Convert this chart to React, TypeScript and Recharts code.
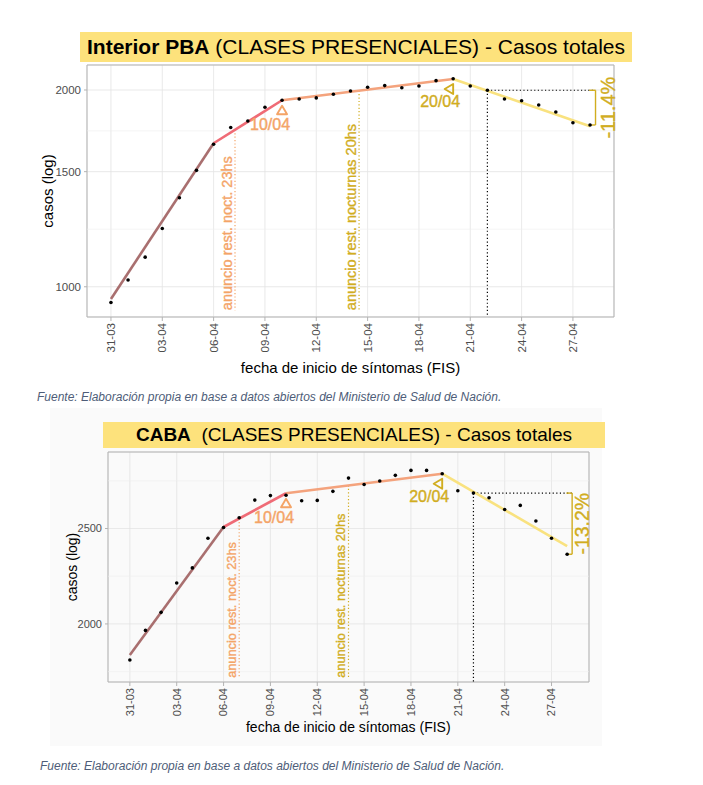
import {
  CartesianGrid,
  ComposedChart,
  Line,
  ReferenceArea,
  ReferenceDot,
  ReferenceLine,
  Scatter,
  XAxis,
  YAxis,
} from 'recharts'

// dias desde 31-03 (indice 0) hasta 28-04 (indice 28)
const dias = [
  '31-03', '01-04', '02-04', '03-04', '04-04', '05-04', '06-04', '07-04',
  '08-04', '09-04', '10-04', '11-04', '12-04', '13-04', '14-04', '15-04',
  '16-04', '17-04', '18-04', '19-04', '20-04', '21-04', '22-04', '23-04',
  '24-04', '25-04', '26-04', '27-04', '28-04',
]
const diasTicks = [0, 3, 6, 9, 12, 15, 18, 21, 24, 27]

const casosPBA = [
  946, 1024, 1110, 1228, 1368, 1507, 1652, 1752, 1793, 1882, 1929, 1938, 1945,
  1970, 1993, 2019, 2031, 2016, 2028, 2067, 2081, 2028, 1998, 1938, 1926, 1897,
  1851, 1782, 1768,
]
const casosCABA = [
  1838, 1970, 2055, 2201, 2280, 2444, 2506, 2564, 2672, 2700, 2702, 2668, 2670,
  2727, 2813, 2771, 2794, 2831, 2864, 2864, 2842, 2731, 2716, 2687, 2614, 2639,
  2544, 2444, 2354,
]

// regresion segmentada: dias de quiebre y valor ajustado en cada uno
const quiebres = [0, 6, 10, 20, 28]
const tramoPBA = [958, 1658, 1929, 2079, 1760]
const tramoCABA = [1860, 2509, 2715, 2842, 2399]
const coloresTramo = ['#a96f6f', '#ef6b76', '#f4a37d', '#f9e27f']

const ticksPBA = [1000, 1500, 2000]
const minorPBA = [1224.7, 1732.1]
const ticksCABA = [2000, 2500]
const minorCABA = [1788.9, 2236.1, 2795.1]

const naranja = '#f4a467'
const dorado = '#d1ad1f'
const diaRef = 22
const diaFin = 28
const xDominio: [number, number] = [-1.4, 29.4]
const xBracket = 28.32
const xBracketTick = 27.95

type Anuncio = { dia: number; texto: string; color: string }

function tramoEn(tramo: number[], dia: number) {
  for (let i = 0; i < quiebres.length - 1; i++) {
    if (dia <= quiebres[i + 1]) {
      const t = (dia - quiebres[i]) / (quiebres[i + 1] - quiebres[i])
      return tramo[i] * Math.pow(tramo[i + 1] / tramo[i], t)
    }
  }
  return tramo[tramo.length - 1]
}

function TickFecha(props: any) {
  const { x, y, payload, fontSize } = props
  return (
    <text
      x={x}
      y={y}
      transform={`rotate(-90 ${x} ${y})`}
      textAnchor='end'
      dy='0.35em'
      fontSize={fontSize}
      fill='#4d4d4d'
    >
      {dias[payload.value]}
    </text>
  )
}

function Punto(props: any) {
  return <circle cx={props.cx} cy={props.cy} r={1.8} fill='#000' />
}

function TextoVertical(props: any) {
  const { cx, cy, texto, color, dx, fontSize, anchor } = props
  const x = cx + dx
  return (
    <text
      x={x}
      y={cy}
      transform={`rotate(-90 ${x} ${cy})`}
      textAnchor={anchor}
      dominantBaseline='central'
      fontSize={fontSize}
      fill={color}
      stroke={color}
      strokeWidth={0.35}
    >
      {texto}
    </text>
  )
}

function Quiebre(props: any) {
  const { cx, cy, texto, color, rot, tri, txt, fontSize } = props
  const tx = cx + tri[0]
  const ty = cy + tri[1]
  return (
    <g>
      <path
        d={`M ${tx} ${ty - 4.5} L ${tx + 5} ${ty + 4} L ${tx - 5} ${ty + 4} Z`}
        transform={`rotate(${rot} ${tx} ${ty})`}
        fill='none'
        stroke={color}
        strokeWidth={1.9}
        strokeLinejoin='round'
      />
      <text
        x={cx + txt[0]}
        y={cy + txt[1]}
        textAnchor='middle'
        dominantBaseline='central'
        fontSize={fontSize}
        fill={color}
        stroke={color}
        strokeWidth={0.4}
      >
        {texto}
      </text>
    </g>
  )
}

type PanelProps = {
  casos: number[]
  tramo: number[]
  yDominio: [number, number]
  yTicks: number[]
  yMinor: number[]
  anuncios: Anuncio[]
  pie: number
  pct: string
  width: number
  height: number
  margin: { top: number; right: number; bottom: number; left: number }
  fsTick: number
  fsAnuncio: number
  fsPct: number
  pctDx: number
}

function Panel(p: PanelProps) {
  const puntos = p.casos.map((y, x) => ({ x, y }))
  const tramos = quiebres.slice(0, -1).map((q, i) => [
    { x: q, y: p.tramo[i] },
    { x: quiebres[i + 1], y: p.tramo[i + 1] },
  ])
  const yRef = p.casos[diaRef]
  const yFin = p.casos[diaFin]
  const gridStroke = '#e3e3e3'

  return (
    <ComposedChart width={p.width} height={p.height} margin={p.margin}>
      <CartesianGrid stroke={gridStroke} strokeWidth={0.8} />
      {p.yMinor.map((v) => (
        <ReferenceLine key={v} y={v} stroke='#efefef' strokeWidth={0.6} />
      ))}
      <XAxis
        type='number'
        dataKey='x'
        domain={xDominio}
        allowDataOverflow
        ticks={diasTicks}
        interval={0}
        height={40}
        axisLine={false}
        tickSize={4}
        tickMargin={2}
        tickLine={{ stroke: '#b3b3b3' }}
        tick={<TickFecha fontSize={p.fsTick} />}
      />
      <YAxis
        type='number'
        dataKey='y'
        scale='log'
        domain={p.yDominio}
        allowDataOverflow
        ticks={p.yTicks}
        interval={0}
        width={40}
        axisLine={false}
        tickSize={3}
        tickMargin={3}
        tickLine={{ stroke: '#b3b3b3' }}
        tick={{ fontSize: p.fsTick, fill: '#4d4d4d' }}
      />
      <ReferenceArea
        x1={xDominio[0]}
        x2={xDominio[1]}
        y1={p.yDominio[0]}
        y2={p.yDominio[1]}
        fill='none'
        fillOpacity={0}
        stroke='#b3b3b3'
        strokeWidth={1}
        ifOverflow='visible'
      />
      {p.anuncios.map((a) => (
        <ReferenceLine
          key={a.texto}
          segment={[
            { x: a.dia, y: tramoEn(p.tramo, a.dia) },
            { x: a.dia, y: p.pie },
          ]}
          stroke={a.color}
          strokeWidth={1.2}
          strokeDasharray='1.2 2.2'
        />
      ))}
      <ReferenceLine
        segment={[
          { x: diaRef, y: yRef },
          { x: diaRef, y: p.yDominio[0] },
        ]}
        stroke='#000'
        strokeWidth={1.2}
        strokeDasharray='1.2 2.4'
      />
      <ReferenceLine
        segment={[
          { x: diaRef, y: yRef },
          { x: xBracket, y: yRef },
        ]}
        stroke='#000'
        strokeWidth={1.2}
        strokeDasharray='1.2 2.4'
      />
      {tramos.map((d, i) => (
        <Line
          key={i}
          data={d}
          dataKey='y'
          stroke={coloresTramo[i]}
          strokeWidth={2.6}
          dot={false}
          activeDot={false}
          isAnimationActive={false}
        />
      ))}
      <ReferenceLine
        segment={[
          { x: xBracket, y: yRef },
          { x: xBracket, y: yFin },
        ]}
        stroke={dorado}
        strokeWidth={1.4}
      />
      <ReferenceLine
        segment={[
          { x: xBracketTick, y: yRef },
          { x: xBracket, y: yRef },
        ]}
        stroke={dorado}
        strokeWidth={1.4}
      />
      <ReferenceLine
        segment={[
          { x: xBracketTick, y: yFin },
          { x: xBracket, y: yFin },
        ]}
        stroke={dorado}
        strokeWidth={1.4}
      />
      <Scatter
        data={puntos}
        dataKey='y'
        shape={Punto}
        isAnimationActive={false}
      />
      {p.anuncios.map((a) => (
        <ReferenceDot
          key={'t' + a.texto}
          x={a.dia}
          y={p.pie}
          r={0}
          ifOverflow='visible'
          shape={(s: any) => (
            <TextoVertical
              cx={s.cx}
              cy={s.cy}
              dx={-8}
              texto={a.texto}
              color={a.color}
              fontSize={p.fsAnuncio}
              anchor='start'
            />
          )}
        />
      ))}
      <ReferenceDot
        x={quiebres[2]}
        y={p.tramo[2]}
        r={0}
        ifOverflow='visible'
        shape={(s: any) => (
          <Quiebre
            cx={s.cx}
            cy={s.cy}
            texto={dias[quiebres[2]].replace('-', '/')}
            color={naranja}
            rot={0}
            tri={[0, 10]}
            txt={[-12, 24]}
            fontSize={16}
          />
        )}
      />
      <ReferenceDot
        x={quiebres[3]}
        y={p.tramo[3]}
        r={0}
        ifOverflow='visible'
        shape={(s: any) => (
          <Quiebre
            cx={s.cx}
            cy={s.cy}
            texto={dias[quiebres[3]].replace('-', '/')}
            color={dorado}
            rot={-90}
            tri={[-4, 10]}
            txt={[-13, 23]}
            fontSize={16}
          />
        )}
      />
      <ReferenceDot
        x={xBracket}
        y={Math.sqrt(yRef * yFin)}
        r={0}
        ifOverflow='visible'
        shape={(s: any) => (
          <TextoVertical
            cx={s.cx}
            cy={s.cy}
            dx={p.pctDx}
            texto={p.pct}
            color={dorado}
            fontSize={p.fsPct}
            anchor='middle'
          />
        )}
      />
    </ComposedChart>
  )
}

function Texto({
  x,
  y,
  children,
  size,
  rotate = 0,
  style = {},
}: {
  x: number
  y: number
  children: any
  size: number
  rotate?: number
  style?: any
}) {
  return (
    <div
      style={{
        position: 'absolute',
        left: x,
        top: y,
        transform: `translate(-50%, -50%) rotate(${rotate}deg)`,
        fontSize: size,
        whiteSpace: 'pre',
        lineHeight: 1,
        ...style,
      }}
    >
      {children}
    </div>
  )
}

const fuente =
  'Fuente: Elaboración propia en base a datos abiertos del Ministerio de Salud de Nación.'

export default function App() {
  return (
    <div
      style={{
        position: 'absolute',
        left: 0,
        top: 0,
        width: 703,
        height: 785,
        background: '#fff',
        fontFamily: '"Liberation Sans", Arial, sans-serif',
        color: '#000',
        overflow: 'hidden',
      }}
    >
      <div
        style={{
          position: 'absolute',
          left: 50,
          top: 408,
          width: 552,
          height: 338,
          background: '#fafafa',
        }}
      />

      <div
        style={{
          position: 'absolute',
          left: 80,
          top: 32,
          width: 552,
          height: 30,
          background: '#fde27c',
          display: 'flex',
          alignItems: 'center',
          justifyContent: 'center',
          fontSize: 21,
        }}
      >
        <span style={{ whiteSpace: 'pre' }}>
          <b>Interior PBA</b>
          {' (CLASES PRESENCIALES) - Casos totales'}
        </span>
      </div>
      <div style={{ position: 'absolute', left: 0, top: 0 }}>
        <Panel
          casos={casosPBA}
          tramo={tramoPBA}
          yDominio={[899, 2184]}
          yTicks={ticksPBA}
          yMinor={minorPBA}
          anuncios={[
            { dia: 7.25, texto: 'anuncio rest. noct. 23hs', color: naranja },
            { dia: 14.5, texto: 'anuncio rest. nocturnas 20hs', color: dorado },
          ]}
          pie={921}
          pct='-11.4%'
          width={640}
          height={360}
          margin={{ top: 65, right: 26, bottom: 3, left: 47 }}
          fsTick={11.5}
          fsAnuncio={14.5}
          fsPct={20}
          pctDx={12}
        />
      </div>
      <Texto x={350.5} y={367} size={15}>
        fecha de inicio de síntomas (FIS)
      </Texto>
      <Texto x={47} y={191} size={15} rotate={-90}>
        casos (log)
      </Texto>
      <div
        style={{
          position: 'absolute',
          left: 37,
          top: 390,
          fontSize: 12,
          fontStyle: 'italic',
          color: '#4e5d78',
          whiteSpace: 'nowrap',
        }}
      >
        {fuente}
      </div>

      <div
        style={{
          position: 'absolute',
          left: 103,
          top: 422,
          width: 502,
          height: 26,
          background: '#fde27c',
          display: 'flex',
          alignItems: 'center',
          justifyContent: 'center',
          fontSize: 19,
        }}
      >
        <span style={{ whiteSpace: 'pre' }}>
          <b>CABA</b>
          {'  (CLASES PRESENCIALES) - Casos totales'}
        </span>
      </div>
      <div style={{ position: 'absolute', left: 0, top: 400 }}>
        <Panel
          casos={casosCABA}
          tramo={tramoCABA}
          yDominio={[1746, 2990]}
          yTicks={ticksCABA}
          yMinor={minorCABA}
          anuncios={[
            { dia: 7, texto: 'anuncio rest. noct. 23hs', color: naranja },
            { dia: 14, texto: 'anuncio rest. nocturnas 20hs', color: dorado },
          ]}
          pie={1763}
          pct='-13.2%'
          width={620}
          height={330}
          margin={{ top: 52, right: 31, bottom: 8, left: 68 }}
          fsTick={11}
          fsAnuncio={12.8}
          fsPct={19.5}
          pctDx={9.5}
        />
      </div>
      <Texto x={348.3} y={727} size={14}>
        fecha de inicio de síntomas (FIS)
      </Texto>
      <Texto x={71.5} y={567} size={14} rotate={-90}>
        casos (log)
      </Texto>
      <div
        style={{
          position: 'absolute',
          left: 40,
          top: 759,
          fontSize: 12,
          fontStyle: 'italic',
          color: '#4e5d78',
          whiteSpace: 'nowrap',
        }}
      >
        {fuente}
      </div>
    </div>
  )
}
